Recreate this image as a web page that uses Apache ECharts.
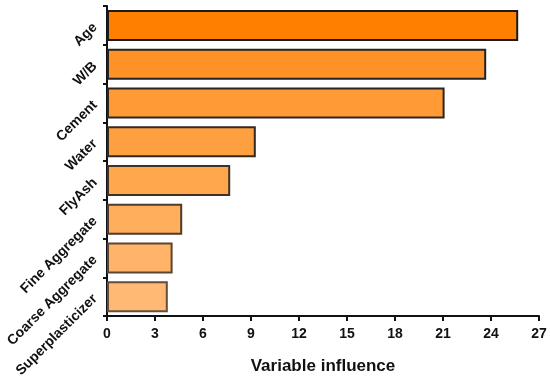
<!DOCTYPE html>
<html><head><meta charset="utf-8">
<script src="https://cdn.jsdelivr.net/npm/echarts@6/dist/echarts.min.js"></script>
<style>html,body{margin:0;padding:0;background:#fff}#c{width:550px;height:380px}</style>
</head><body><div id="c"></div>
<script>
const categories = ["Age","W/B","Cement","Water","FlyAsh","Fine Aggregate","Coarse Aggregate","Superplasticizer"];
const values = [25.7, 23.7, 21.1, 9.3, 7.7, 4.7, 4.1, 3.8];
const fillColors = ["#FF8000","#FF9226","#FF9A35","#FFA040","#FFA74D","#FFAE5C","#FFB46A","#FFB975"];
const borderColors = ["#1a1a1a","#222222","#2a2520","#33291f","#3f3124","#4d3b2b","#5a4532","#654d38"];
const xTicks = [0,3,6,9,12,15,18,21,24,27];

const chart = echarts.init(document.getElementById('c'));
chart.setOption({
  animation:false,
  grid:{left:107,right:11,top:6,bottom:56},
  xAxis:{type:'value',min:xTicks[0],max:xTicks[xTicks.length-1],interval:3,
    name:'Variable influence',nameLocation:'middle',nameGap:42,
    nameTextStyle:{fontFamily:'Liberation Sans',fontWeight:'bold',fontSize:17,color:'#111'},
    axisLine:{show:true,lineStyle:{color:'#111',width:2}},
    axisTick:{show:true,length:5,lineStyle:{color:'#111',width:2}},
    axisLabel:{fontFamily:'Liberation Sans',fontWeight:'bold',fontSize:14,color:'#111',margin:11},
    splitLine:{show:false}},
  yAxis:{type:'category',data:categories,inverse:true,
    axisLine:{show:true,lineStyle:{color:'#111',width:2}},
    axisTick:{show:true,length:4,lineStyle:{color:'#111',width:2}},
    axisLabel:{fontFamily:'Liberation Sans',fontWeight:'bold',fontSize:14,color:'#111',rotate:45,margin:12}},
  series:[{type:'bar',barCategoryGap:'20%',
    data:values.map((v,i)=>({value:v,itemStyle:{color:fillColors[i],borderColor:borderColors[i],borderWidth:2}}))}]
});
</script></body></html>
